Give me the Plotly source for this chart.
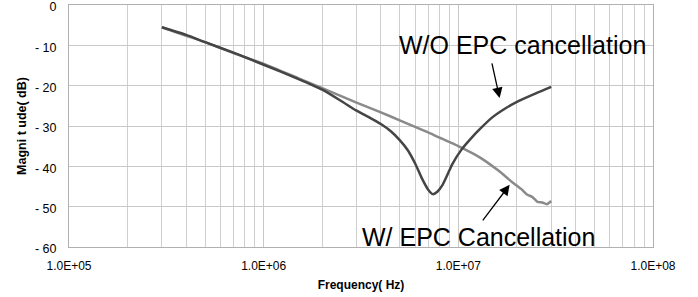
import plotly.graph_objects as go

# Data
freq_wo = [3e5, 4e5, 5e5, 7e5, 1e6, 1.5e6, 2e6, 2.5e6, 3e6, 3.5e6, 4e6, 4.5e6, 5e6, 5.5e6,
           6e6, 6.5e6, 7e6, 7.4e6, 7.8e6, 8.3e6, 9e6, 9.3e6, 1.04e7, 1.15e7, 1.3e7, 1.5e7,
           1.75e7, 2e7, 2.5e7, 3e7]
mag_wo = [-5.5, -7.4, -9.2, -11.8, -14.8, -18.3, -21.0, -23.8, -26.2, -27.9, -29.5, -31.3,
          -33.5, -36.0, -39.3, -43.0, -45.8, -46.9, -46.3, -44.6, -41.0, -39.5, -35.8, -33.3,
          -30.6, -27.8, -25.6, -24.0, -21.9, -20.3]

freq_w = [3e5, 4e5, 5e5, 7e5, 1e6, 1.5e6, 2e6, 3e6, 4e6, 5e6, 6e6, 7e6, 8e6, 1e7, 1.3e7,
          1.6e7, 1.9e7, 2.1e7, 2.25e7, 2.4e7, 2.55e7, 2.7e7, 2.85e7, 2.95e7, 3e7]
mag_w = [-5.5, -7.6, -9.2, -11.9, -14.6, -18.1, -20.6, -24.2, -26.6, -28.6, -30.2, -31.6,
         -32.9, -35.0, -37.9, -41.0, -44.0, -45.6, -47.0, -47.6, -48.8, -49.0, -49.4, -48.9,
         -48.6]

x_tick_vals = [1e5, 1e6, 1e7, 1e8]
x_tick_text = ["1.0E+05", "1.0E+06", "1.0E+07", "1.0E+08"]
y_tick_vals = [0, -10, -20, -30, -40, -50, -60]
y_tick_text = ["0", "- 10", "- 20", "- 30", "- 40", "- 50", "- 60"]
minor_vals = [m * 10 ** d for d in range(5, 8) for m in range(2, 10)]

label_wo = "W/O EPC cancellation"
label_w = "W/ EPC Cancellation"

fig = go.Figure()
fig.add_trace(go.Scatter(x=freq_w, y=mag_w, mode="lines",
                         line=dict(color="#8a8a8a", width=2.5, shape="spline", smoothing=0.6),
                         showlegend=False))
fig.add_trace(go.Scatter(x=freq_wo, y=mag_wo, mode="lines",
                         line=dict(color="#454545", width=2.5, shape="spline", smoothing=0.6),
                         showlegend=False))

font_main = "Liberation Sans, Arial, sans-serif"

fig.update_layout(
    width=698, height=297,
    margin=dict(l=69, r=45, t=5, b=50),
    paper_bgcolor="white", plot_bgcolor="white",
    font=dict(family=font_main, size=12, color="black"),
    xaxis=dict(
        type="log", range=[5, 8], automargin=False,
        tickvals=x_tick_vals, ticktext=x_tick_text,
        showgrid=True, gridcolor="#c8c8c8", gridwidth=1,
        minor=dict(tickvals=minor_vals, showgrid=True, gridcolor="#cfcfcf", gridwidth=1, ticks=""),
        showline=True, linecolor="#b0b0b0", linewidth=1, mirror=True,
        ticks="", ticklabelstandoff=8, ticklabeloverflow="allow",
        tickfont=dict(size=12),
        title=dict(text="<b>Frequency( Hz)</b>", font=dict(size=12), standoff=8),
        zeroline=False,
    ),
    yaxis=dict(
        range=[-60.02, 0.02], tickvals=y_tick_vals, ticktext=y_tick_text, automargin=False,
        showgrid=True, gridcolor="#c8c8c8", gridwidth=1,
        showline=True, linecolor="#b0b0b0", linewidth=1, mirror=True,
        ticks="", ticklabelstandoff=9, ticklabeloverflow="allow", ticklabelshift=2,
        tickfont=dict(size=12.5),
        title=dict(text="<b>Magni t ude( dB)</b>", font=dict(size=12.5), standoff=5),
        zeroline=False,
    ),
    annotations=[
        dict(text=label_wo, x=7.330, y=-9.9, xref="x", yref="y", showarrow=False,
             font=dict(size=25, family=font_main, color="black"), xanchor="center", yanchor="middle"),
        dict(text=label_w, x=7.104, y=-57.5, xref="x", yref="y", showarrow=False,
             font=dict(size=25, family=font_main, color="black"), xanchor="center", yanchor="middle"),
        dict(text="", x=7.212, y=-23.06, ax=7.171, ay=-14.1, xref="x", yref="y",
             axref="x", ayref="y", showarrow=True, arrowhead=2, arrowsize=1.6,
             arrowwidth=1.3, arrowcolor="black"),
        dict(text="", x=7.2635, y=-44.6, ax=7.1198, ay=-53.8, xref="x", yref="y",
             axref="x", ayref="y", showarrow=True, arrowhead=2, arrowsize=1.6,
             arrowwidth=1.3, arrowcolor="black"),
    ],
)

fig.write_html("out.html", config={"displayModeBar": False},
               post_script="document.body.style.margin='0';document.body.style.overflow='hidden';")
